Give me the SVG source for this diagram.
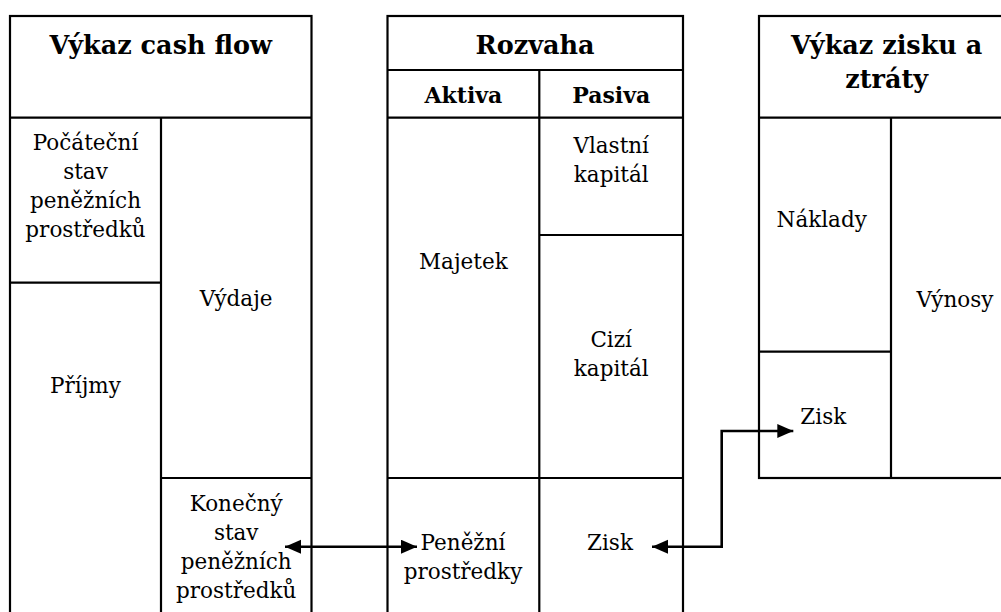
<svg xmlns="http://www.w3.org/2000/svg" width="1001" height="612" viewBox="0 0 1001 612">
  <style>
    .box { fill: none; stroke: #000; stroke-width: 2.2; }
    .ln { stroke: #000; stroke-width: 2.2; fill: none; }
    text { font-family: 'DejaVu Serif', 'Liberation Serif', serif; text-anchor: middle; fill: #000; }
    .t { font-size: 21.5px; }
    .h { font-size: 25.5px; font-weight: bold; }
    .hb { font-size: 22px; font-weight: bold; }
    .con { stroke: #000; stroke-width: 2.6; fill: none; marker-start: url(#ah); marker-end: url(#ah); }
  </style>
  <defs>
    <marker id="ah" markerUnits="userSpaceOnUse" markerWidth="17" markerHeight="15" refX="16" refY="7" orient="auto-start-reverse" viewBox="0 0 17 15">
      <path d="M0,0 L16,7 L0,14 z" fill="#000"/>
    </marker>
  </defs>
  <rect width="1001" height="612" fill="#fff"/>

  <g id="cashflow">
    <rect class="box" x="10" y="16" width="301.5" height="640"/>
    <line class="ln" x1="10" y1="117.6" x2="311.5" y2="117.6"/>
    <line class="ln" x1="161" y1="117.6" x2="161" y2="640"/>
    <line class="ln" x1="10" y1="282.7" x2="161" y2="282.7"/>
    <line class="ln" x1="161" y1="478" x2="311.5" y2="478"/>
    <g id="cf-title"><text class="h" x="160.7" y="54">Výkaz cash flow</text></g>
    <g id="cf-pocatecni">
      <text class="t" x="85.5" y="150">Počáteční</text>
      <text class="t" x="85.5" y="179">stav</text>
      <text class="t" x="85.5" y="208">peněžních</text>
      <text class="t" x="85.5" y="237">prostředků</text>
    </g>
    <g id="cf-prijmy"><text class="t" x="85.5" y="393">Příjmy</text></g>
    <g id="cf-vydaje"><text class="t" x="236.2" y="306">Výdaje</text></g>
    <g id="cf-konecny">
      <text class="t" x="236.2" y="511">Konečný</text>
      <text class="t" x="236.2" y="540">stav</text>
      <text class="t" x="236.2" y="569">peněžních</text>
      <text class="t" x="236.2" y="598">prostředků</text>
    </g>
  </g>

  <g id="rozvaha">
    <rect class="box" x="387.5" y="16" width="295.5" height="640"/>
    <line class="ln" x1="387.5" y1="70" x2="683" y2="70"/>
    <line class="ln" x1="387.5" y1="117.6" x2="683" y2="117.6"/>
    <line class="ln" x1="539.3" y1="70" x2="539.3" y2="640"/>
    <line class="ln" x1="539.3" y1="235" x2="683" y2="235"/>
    <line class="ln" x1="387.5" y1="478" x2="683" y2="478"/>
    <g id="rz-title"><text class="h" x="535" y="54">Rozvaha</text></g>
    <g id="rz-aktiva"><text class="hb" x="463.4" y="103">Aktiva</text></g>
    <g id="rz-pasiva"><text class="hb" x="611.2" y="103">Pasiva</text></g>
    <g id="rz-vlastni">
      <text class="t" x="611.2" y="153">Vlastní</text>
      <text class="t" x="611.2" y="182">kapitál</text>
    </g>
    <g id="rz-majetek"><text class="t" x="463.4" y="269">Majetek</text></g>
    <g id="rz-cizi">
      <text class="t" x="611.2" y="347">Cizí</text>
      <text class="t" x="611.2" y="376">kapitál</text>
    </g>
    <g id="rz-penezni">
      <text class="t" x="463" y="550">Peněžní</text>
      <text class="t" x="463" y="579">prostředky</text>
    </g>
    <g id="rz-zisk"><text class="t" x="610" y="550">Zisk</text></g>
  </g>

  <g id="vzz">
    <rect class="box" x="759" y="16" width="260" height="462"/>
    <line class="ln" x1="759" y1="117.6" x2="1019" y2="117.6"/>
    <line class="ln" x1="891" y1="117.6" x2="891" y2="478"/>
    <line class="ln" x1="759" y1="351.7" x2="891" y2="351.7"/>
    <g id="vzz-title">
      <text class="h" x="886.7" y="54">Výkaz zisku a</text>
      <text class="h" x="886.7" y="88">ztráty</text>
    </g>
    <g id="vzz-naklady"><text class="t" x="821.7" y="227">Náklady</text></g>
    <g id="vzz-vynosy"><text class="t" x="955" y="307">Výnosy</text></g>
    <g id="vzz-zisk"><text class="t" x="823.3" y="424">Zisk</text></g>
  </g>

  <g id="connectors">
    <line class="con" x1="285" y1="546.7" x2="417" y2="546.7"/>
    <path class="con" d="M652,546.7 L721.7,546.7 L721.7,431 L793.3,431"/>
  </g>
</svg>
